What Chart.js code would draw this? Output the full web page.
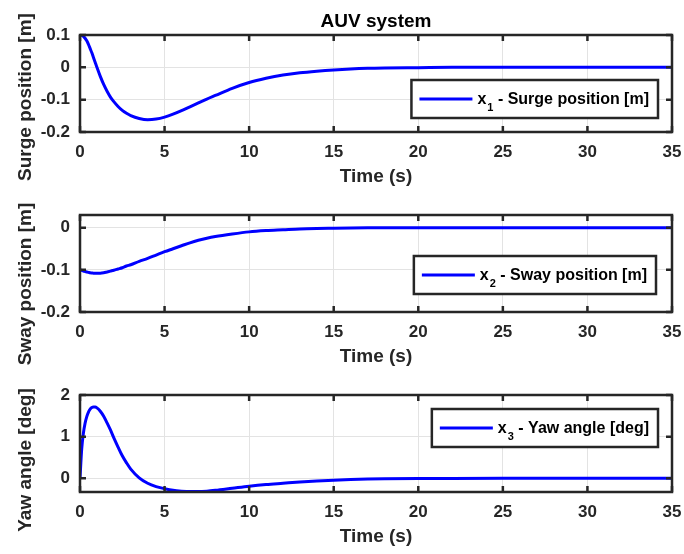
<!DOCTYPE html>
<html>
<head>
<meta charset="utf-8">
<script src="https://cdn.jsdelivr.net/npm/chart.js@4.4.1/dist/chart.umd.min.js"></script>
<style>
  html, body { margin: 0; padding: 0; background: #fff; }
  #wrap { position: relative; width: 684px; height: 554px; }
  canvas { position: absolute; left: 0; }
</style>
</head>
<body>
<div id="wrap">
  <canvas id="c1" width="684" height="190" style="top:0px"></canvas>
  <canvas id="c2" width="684" height="190" style="top:180px"></canvas>
  <canvas id="c3" width="684" height="190" style="top:360px"></canvas>
</div>
<script>
// time samples (s)
const timeS = [0, 0.1, 0.2, 0.3, 0.4, 0.5, 0.6, 0.7, 0.8, 0.9, 1.0, 1.2, 1.4, 1.6, 1.8, 2.0,
  2.25, 2.5, 2.75, 3, 3.5, 4, 4.5, 5, 5.5, 6, 6.5, 7, 7.5, 8, 9, 10, 11, 12, 13, 14, 15, 16,
  17, 18, 20, 22, 25, 30, 35];

// x1 - surge position [m]
const surgePos = [0.100, 0.099, 0.096, 0.090, 0.082, 0.071, 0.058, 0.045, 0.030, 0.015, 0.000,
  -0.028, -0.053, -0.074, -0.092, -0.106, -0.121, -0.133, -0.142, -0.149, -0.158, -0.162,
  -0.160, -0.154, -0.145, -0.134, -0.122, -0.110, -0.098, -0.087, -0.065, -0.047, -0.034,
  -0.024, -0.017, -0.012, -0.008, -0.005, -0.003, -0.002, -0.001, 0, 0, 0, 0];

// x2 - sway position [m]
const swayPos = [-0.100, -0.1015, -0.103, -0.104, -0.105, -0.106, -0.107, -0.1075, -0.108,
  -0.108, -0.108, -0.108, -0.107, -0.105, -0.103, -0.101, -0.098, -0.095, -0.091, -0.088,
  -0.080, -0.073, -0.065, -0.057, -0.050, -0.043, -0.036, -0.030, -0.025, -0.021, -0.015,
  -0.010, -0.007, -0.005, -0.003, -0.002, -0.0015, -0.001, -0.0005, 0, 0, 0, 0, 0, 0];

// x3 - yaw angle [deg]
const yawAngle = [0, 0.70, 1.08, 1.32, 1.48, 1.59, 1.66, 1.70, 1.71, 1.71, 1.69, 1.61, 1.49,
  1.33, 1.16, 0.97, 0.75, 0.54, 0.37, 0.22, 0.01, -0.12, -0.20, -0.25, -0.29, -0.31, -0.32,
  -0.32, -0.31, -0.29, -0.24, -0.19, -0.15, -0.12, -0.09, -0.065, -0.045, -0.03, -0.02, -0.014,
  -0.007, -0.003, -0.001, 0, 0];

const seriesNames = ["Surge position [m]", "Sway position [m]", "Yaw angle [deg]"];
const seriesSubs = ["1", "2", "3"];
const yTitles = ["Surge position [m]", "Sway position [m]", "Yaw angle [deg]"];
const figTitle = "AUV system";
const xTitle = "Time (s)";

const xTicks = [0, 5, 10, 15, 20, 25, 30, 35];
const surgeTicks = [-0.2, -0.1, 0, 0.1];
const swayTicks = [-0.2, -0.1, 0];
const yawTicks = [0, 1, 2];
const surgeRange = [-0.2, 0.1];
const swayRange = [-0.2, 0.03];
const yawRange = [-0.33, 2];

const FONT = '"Liberation Sans", Arial, Helvetica, sans-serif';
const ink = "#262626";
Chart.defaults.font.family = FONT;

// box, inward ticks, y label, legend and title, drawn the matlab way
const frame = {
  id: "frame",
  afterDraw(chart, args, o) {
    const { ctx, chartArea: a, scales } = chart;
    ctx.save();

    // legend box
    const mainF = "bold 16px " + FONT, subF = "bold 11px " + FONT;
    ctx.font = mainF;
    const wx = ctx.measureText("x").width;
    const wRest = ctx.measureText(" - " + o.name).width;
    ctx.font = subF;
    const wSub = ctx.measureText(o.sub).width;
    const boxW = 8 + 53 + 5 + wx + 1 + wSub + wRest + 9;
    const boxH = 38;
    const bx = a.right - o.legRight - boxW;
    const by = a.top + o.legTop;
    ctx.fillStyle = "#fff";
    ctx.fillRect(bx, by, boxW, boxH);
    ctx.lineWidth = 2.5;
    ctx.strokeStyle = ink;
    ctx.strokeRect(bx, by, boxW, boxH);
    const cy = by + boxH / 2;
    ctx.strokeStyle = "#0000ff";
    ctx.lineWidth = 3;
    ctx.beginPath();
    ctx.moveTo(bx + 8, cy);
    ctx.lineTo(bx + 61, cy);
    ctx.stroke();
    ctx.fillStyle = "#000";
    ctx.textAlign = "left";
    ctx.textBaseline = "alphabetic";
    let tx = bx + 66;
    ctx.font = mainF;
    ctx.fillText("x", tx, cy + 5);
    tx += wx + 1;
    ctx.font = subF;
    ctx.fillText(o.sub, tx, cy + 12);
    tx += wSub;
    ctx.font = mainF;
    ctx.fillText(" - " + o.name, tx, cy + 5);

    // axes box with inward ticks
    ctx.strokeStyle = ink;
    ctx.lineWidth = 2.5;
    const tl = 6;
    ctx.beginPath();
    scales.x.ticks.forEach(t => {
      const px = scales.x.getPixelForValue(t.value);
      ctx.moveTo(px, a.bottom); ctx.lineTo(px, a.bottom - tl);
      ctx.moveTo(px, a.top); ctx.lineTo(px, a.top + tl);
    });
    scales.y.ticks.forEach(t => {
      const py = scales.y.getPixelForValue(t.value);
      ctx.moveTo(a.left, py); ctx.lineTo(a.left + tl, py);
      ctx.moveTo(a.right, py); ctx.lineTo(a.right - tl, py);
    });
    ctx.stroke();
    ctx.strokeRect(a.left, a.top, a.right - a.left, a.bottom - a.top);

    // y label
    ctx.fillStyle = ink;
    ctx.font = "bold 19px " + FONT;
    ctx.textAlign = "center";
    ctx.textBaseline = "alphabetic";
    ctx.translate(31, o.labelMid);
    ctx.rotate(-Math.PI / 2);
    ctx.fillText(o.yTitle, 0, 0);
    ctx.setTransform(1, 0, 0, 1, 0, 0);

    if (o.title) {
      ctx.fillStyle = "#000";
      ctx.font = "bold 19px " + FONT;
      ctx.textAlign = "center";
      ctx.fillText(o.title, (a.left + a.right) / 2, 26.5);
    }
    ctx.restore();
  }
};

function makePanel(id, values, yTicks, yRange, idx, extra) {
  return new Chart(document.getElementById(id), {
    type: "line",
    data: {
      datasets: [{
        label: "x" + seriesSubs[idx] + " - " + seriesNames[idx],
        data: timeS.map((t, i) => ({ x: t, y: values[i] })),
        borderColor: "#0000ff",
        borderWidth: 3,
        pointRadius: 0,
        fill: false,
        cubicInterpolationMode: "monotone"
      }]
    },
    options: {
      responsive: false,
      animation: false,
      devicePixelRatio: 1,
      layout: { padding: { top: 35, right: 12, bottom: 0, left: 0 } },
      plugins: {
        legend: { display: false },
        tooltip: { enabled: false },
        frame: Object.assign({
          name: seriesNames[idx],
          sub: seriesSubs[idx],
          yTitle: yTitles[idx]
        }, extra)
      },
      scales: {
        x: {
          type: "linear",
          min: 0,
          max: 35,
          afterBuildTicks: s => { s.ticks = xTicks.map(v => ({ value: v })); },
          afterFit: s => { s.height = 58; s.paddingLeft = 0; s.paddingRight = 0; },
          grid: { color: "#e3e3e3", lineWidth: 1, drawTicks: false },
          border: { display: false },
          ticks: { padding: 10, color: ink, font: { size: 17, weight: "bold" }, maxRotation: 0,
            callback: v => String(v) },
          title: { display: true, text: xTitle, color: ink, font: { size: 19, weight: "bold" },
            padding: { top: 0, bottom: 2 } }
        },
        y: {
          type: "linear",
          min: yRange[0],
          max: yRange[1],
          afterBuildTicks: s => { s.ticks = yTicks.map(v => ({ value: v })); },
          afterFit: s => { s.width = 80; s.paddingTop = 0; s.paddingBottom = 0; },
          grid: { color: "#e3e3e3", lineWidth: 1, drawTicks: false },
          border: { display: false },
          ticks: { padding: 10, color: ink, font: { size: 17, weight: "bold" },
            callback: v => String(v) }
        }
      }
    },
    plugins: [frame]
  });
}

makePanel("c1", surgePos, surgeTicks, surgeRange, 0,
  { labelMid: 97, legTop: 45, legRight: 14, title: figTitle });
makePanel("c2", swayPos, swayTicks, swayRange, 1,
  { labelMid: 104, legTop: 41, legRight: 16 });
makePanel("c3", yawAngle, yawTicks, yawRange, 2,
  { labelMid: 100, legTop: 14, legRight: 14 });
</script>
</body>
</html>
